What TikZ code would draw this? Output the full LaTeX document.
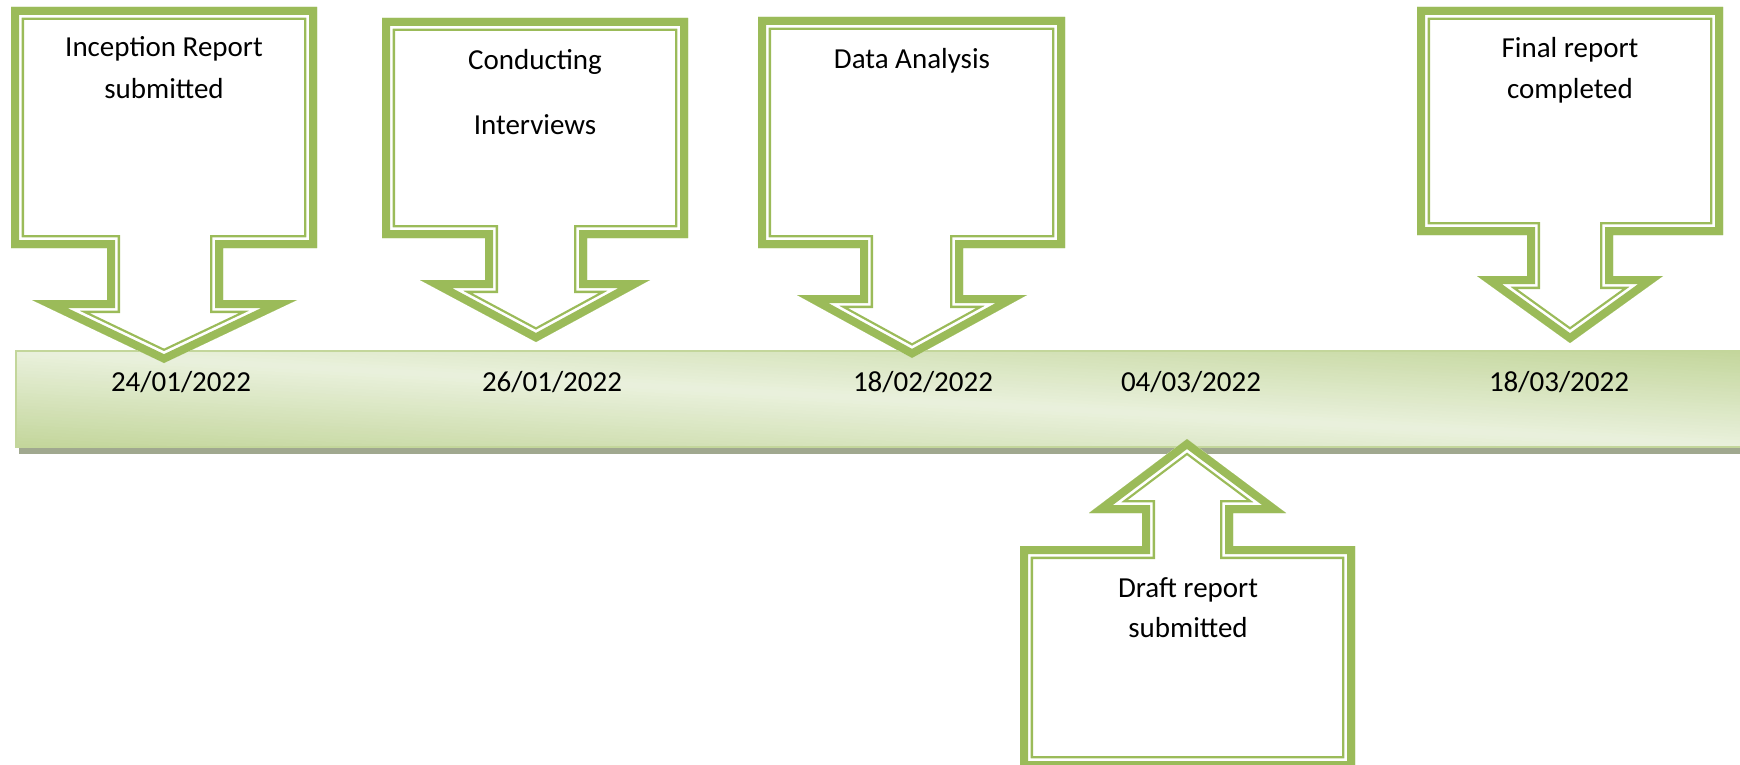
\documentclass[tikz,border=0pt]{standalone}
\usepackage{fontspec}
\setmainfont{Carlito}

\definecolor{calloutgreen}{HTML}{9BBB59}
\definecolor{bardark}{HTML}{C3D69B}
\definecolor{barlight}{HTML}{EAF1DD}
\definecolor{barshadow}{HTML}{A0A88F}

% Callout outline with a thick-thin double border drawn inside the shape:
% thick band 8, white gap 2.7, thin line 2.3.
\newcommand\doubleframe[1]{%
  \begin{scope}
    \fill[white] #1;
    \clip #1;
    \draw[framepen, line width=26] #1;
    \draw[framepen, white, line width=21.4] #1;
    \draw[framepen, line width=16] #1;
  \end{scope}}

\begin{document}
\begin{tikzpicture}[x=1pt, y=-1pt,
    framepen/.style={draw=calloutgreen, line join=miter, miter limit=20},
    every node/.style={font=\fontsize{29}{35}\selectfont, inner sep=0pt},
    lbl/.style={anchor=base, text=black}]

\useasboundingbox (0,0) rectangle (1740,765);

% timeline bar with drop shadow
\fill[barshadow] (19,358) rectangle (1750,454);
% diagonal gradient: light along the top-left to bottom-right diagonal,
% darker towards the bottom-left and top-right corners
\begin{scope}
  \clip (16,351) rectangle (1750,447);
  \foreach \k in {0,...,59} {
    \pgfmathsetmacro\sa{-1+\k/30}
    \pgfmathsetmacro\sb{-1+(\k+1)/30+0.03}
    \pgfmathsetmacro\mix{100*(1-abs(-1+(\k+0.5)/30))}
    \pgfmathsetmacro\ya{351-96*\sa}
    \pgfmathsetmacro\yb{351+96*(1-\sa)}
    \pgfmathsetmacro\yc{351+96*(1-\sb)}
    \pgfmathsetmacro\yd{351-96*\sb}
    \fill[barlight!\mix!bardark]
      (16,\ya) -- (1750,\yb) -- (1750,\yc) -- (16,\yd) -- cycle;
  }
\end{scope}
\draw[bardark, line width=1.5] (16,351) rectangle (1750,447);

% dates on the bar
\node[lbl] (d1) at (181,391) {24/01/2022};
\node[lbl] (d2) at (552,391) {26/01/2022};
\node[lbl] (d3) at (923,391) {18/02/2022};
\node[lbl] (d4) at (1191,391) {04/03/2022};
\node[lbl] (d5) at (1559,391) {18/03/2022};

% down callouts
\doubleframe{(11,7) -- (317,7) -- (317,248) -- (223,248) -- (223,300) -- (297,300)
  -- (164,363) -- (32,300) -- (107,300) -- (107,248) -- (11,248) -- cycle}
\doubleframe{(382,18) -- (688,18) -- (688,238) -- (587,238) -- (587,280) -- (650,280)
  -- (536,342) -- (420,280) -- (485,280) -- (485,238) -- (382,238) -- cycle}
\doubleframe{(758,17) -- (1065,17) -- (1065,248) -- (963,248) -- (963,295) -- (1027,295)
  -- (912,358) -- (797,295) -- (860,295) -- (860,248) -- (758,248) -- cycle}
\doubleframe{(1417,7) -- (1723,7) -- (1723,235) -- (1613,235) -- (1613,276) -- (1663,276)
  -- (1570,343) -- (1477,276) -- (1527,276) -- (1527,235) -- (1417,235) -- cycle}

% up callout
\doubleframe{(1020,769) -- (1020,546) -- (1142,546) -- (1142,513) -- (1089,513)
  -- (1187,439) -- (1286,513) -- (1233,513) -- (1233,546) -- (1355,546) -- (1355,769) -- cycle}

% callout texts
\node[lbl] (c1a) at (164,57) {Inception Report};
\node[lbl] (c1b) at (164,99) {submitted};
\node[lbl] (c2a) at (535,70) {Conducting};
\node[lbl] (c2b) at (535,135) {Interviews};
\node[lbl] (c3a) at (912,69) {Data Analysis};
\node[lbl] (c4a) at (1570,58) {Final report};
\node[lbl] (c4b) at (1570,99) {completed};
\node[lbl] (c5a) at (1188,597) {Draft report};
\node[lbl] (c5b) at (1188,637) {submitted};

\end{tikzpicture}
\end{document}
